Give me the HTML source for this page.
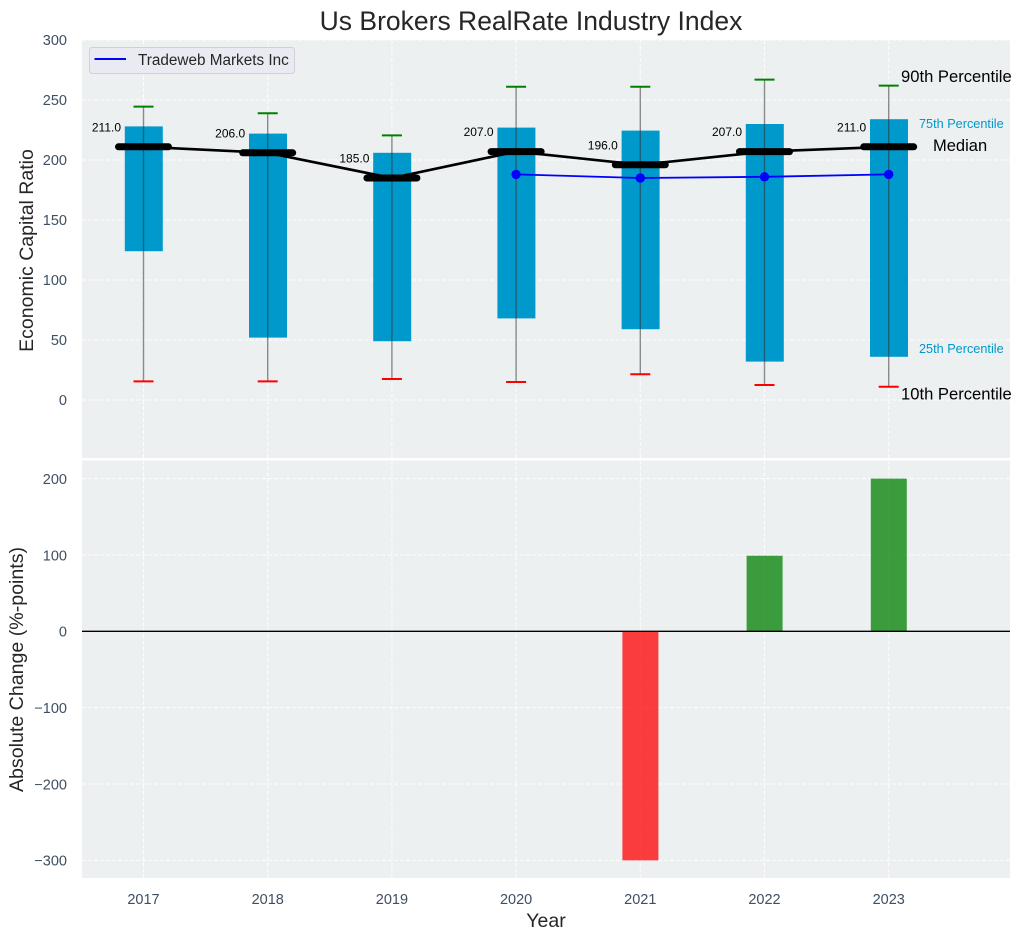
<!DOCTYPE html>
<html>
<head>
<meta charset="utf-8">
<title>Us Brokers RealRate Industry Index</title>
<style>
html,body{margin:0;padding:0;background:#fff;}
svg{display:block;font-family:"Liberation Sans",Arial,sans-serif;}
</style>
</head>
<body>
<svg id="chart" xmlns="http://www.w3.org/2000/svg" width="1021" height="940" viewBox="0 0 1021 940">
  <rect x="82" y="40" width="928" height="418" fill="#ecf0f1"/>
  <rect x="82" y="460.500" width="928" height="417.500" fill="#ecf0f1"/>
  <g id="grid"></g>
  <g id="marks"></g>
  <g id="ticks"></g>
  <text x="531" y="30" font-size="26.500" text-anchor="middle" fill="#262626">Us Brokers RealRate Industry Index</text>
  <text transform="translate(33,250.500) rotate(-90)" font-size="19.500" text-anchor="middle" fill="#262626">Economic Capital Ratio</text>
  <text transform="translate(23,669.500) rotate(-90)" font-size="19.600" text-anchor="middle" fill="#262626">Absolute Change (%-points)</text>
  <text x="546" y="927" font-size="19.500" text-anchor="middle" fill="#262626">Year</text>
  <text x="901" y="82" font-size="16.600" fill="#000">90th Percentile</text>
  <text x="919" y="128" font-size="12.700" fill="#0099cc">75th Percentile</text>
  <text x="933" y="151" font-size="16.500" fill="#000">Median</text>
  <text x="919" y="353" font-size="12.700" fill="#0099cc">25th Percentile</text>
  <text x="901" y="399.500" font-size="16.600" fill="#000">10th Percentile</text>
  <g>
    <rect x="89.500" y="47.500" width="205" height="26" rx="3" fill="#eaeaf2" stroke="#d0d0d6" stroke-width="1"/>
    <line x1="94.500" y1="59" x2="126" y2="59" stroke="#0000ff" stroke-width="2"/>
    <text x="138" y="65" font-size="15.300" fill="#262626">Tradeweb Markets Inc</text>
  </g>
</svg>
<script>
const years = [2017, 2018, 2019, 2020, 2021, 2022, 2023];
const p10 = [15.5, 15.5, 17.5, 15, 21.5, 12.5, 11];
const p25 = [124, 52, 49, 68, 59, 32, 36];
const median = [211, 206, 185, 207, 196, 207, 211];
const p75 = [228, 222, 206, 227, 224.5, 230, 234];
const p90 = [244.5, 239, 220.5, 261, 261, 267, 262];
const companyYears = [2020, 2021, 2022, 2023];
const companyValues = [188, 185, 186, 188];
const changeYears = [2021, 2022, 2023];
const changeValues = [-300, 99, 200];
const topTicks = [0, 50, 100, 150, 200, 250, 300];
const bottomTicks = [-300, -200, -100, 0, 100, 200];

const NS = 'http://www.w3.org/2000/svg';
const gridLayer = document.getElementById('grid');
const markLayer = document.getElementById('marks');
const tickLayer = document.getElementById('ticks');

function xScale(year) { return 143.5 + (year - 2017) * 124.2; }
function yTop(v) { return 400 - v * 1.2; }
function yBottom(v) { return 631.3 - v * 0.7635; }

function make(tag, attrs, parent) {
  const el = document.createElementNS(NS, tag);
  for (const k in attrs) el.setAttribute(k, attrs[k]);
  parent.appendChild(el);
  return el;
}

function gridLine(x1, y1, x2, y2) {
  const el = make('line', { x1: x1, y1: y1, x2: x2, y2: y2, stroke: '#ffffff', 'stroke-width': 1, 'stroke-dasharray': '4 2', opacity: 0.9 }, gridLayer);
  
  
}

topTicks.forEach(function (t) {
  gridLine(82, yTop(t), 1010, yTop(t));
  const label = make('text', { x: 67, y: yTop(t) + 5.2, 'font-size': 14.5, 'text-anchor': 'end', fill: '#3d4f63' }, tickLayer);
  label.textContent = String(t);
  
  
});

bottomTicks.forEach(function (t) {
  gridLine(82, yBottom(t), 1010, yBottom(t));
  const label = make('text', { x: 67, y: yBottom(t) + 5.3, 'font-size': 14.5, 'text-anchor': 'end', fill: '#3d4f63' }, tickLayer);
  label.textContent = String(t).replace('-', '\u2212');
  
  
});

years.forEach(function (y) {
  gridLine(xScale(y), 40, xScale(y), 458);
  gridLine(xScale(y), 460.5, xScale(y), 878);
  const label = make('text', { x: xScale(y), y: 904, 'font-size': 14.5, 'text-anchor': 'middle', fill: '#3d4f63' }, tickLayer);
  label.textContent = String(y);
  
  
});

years.forEach(function (y, i) {
  const cx = xScale(y);
  const box = make('rect', { x: cx - 18.7, y: yTop(p75[i]), width: 38, height: yTop(p25[i]) - yTop(p75[i]), fill: '#0099cc' }, markLayer);
  
  
  const whisker = make('line', { x1: cx, y1: yTop(p90[i]), x2: cx, y2: yTop(p10[i]), stroke: '#333333', 'stroke-width': 1.4, opacity: 0.55 }, markLayer);
  
  
  const capHigh = make('line', { x1: cx - 10, y1: yTop(p90[i]), x2: cx + 10, y2: yTop(p90[i]), stroke: '#008000', 'stroke-width': 2 }, markLayer);
  
  
  const capLow = make('line', { x1: cx - 10, y1: yTop(p10[i]), x2: cx + 10, y2: yTop(p10[i]), stroke: '#ff0000', 'stroke-width': 2 }, markLayer);
  
  
});

const companyLine = make('polyline', {
  points: companyYears.map(function (y, i) { return xScale(y) + ',' + yTop(companyValues[i]); }).join(' '),
  fill: 'none', stroke: '#0000ff', 'stroke-width': 1.8
}, markLayer);



companyYears.forEach(function (y, i) {
  const dot = make('circle', { cx: xScale(y), cy: yTop(companyValues[i]), r: 4.7, fill: '#0000ff' }, markLayer);
  
  
});

const medianLine = make('polyline', {
  points: years.map(function (y, i) { return xScale(y) + ',' + yTop(median[i]); }).join(' '),
  fill: 'none', stroke: '#000000', 'stroke-width': 2.6
}, markLayer);



years.forEach(function (y, i) {
  const cx = xScale(y);
  const tick = make('line', { x1: cx - 25, y1: yTop(median[i]), x2: cx + 25, y2: yTop(median[i]), stroke: '#000000', 'stroke-width': 7, 'stroke-linecap': 'round' }, markLayer);
  
  
  const label = make('text', { x: cx - 22.5, y: yTop(median[i]) - 15.5, 'font-size': 12, 'text-anchor': 'end', fill: '#000000' }, markLayer);
  label.textContent = median[i].toFixed(1);
  
  
});

changeYears.forEach(function (y, i) {
  const v = changeValues[i];
  const top = v >= 0 ? yBottom(v) : yBottom(0);
  const h = Math.abs(yBottom(v) - yBottom(0));
  const bar = make('rect', { x: xScale(y) - 17.9, y: top, width: 36, height: h, fill: v >= 0 ? '#008000' : '#ff0000', 'fill-opacity': 0.75 }, markLayer);
  
  
});

const zeroLine = make('line', { x1: 82, y1: yBottom(0), x2: 1010, y2: yBottom(0), stroke: '#000000', 'stroke-width': 1.3 }, markLayer);


</script>
</body>
</html>
